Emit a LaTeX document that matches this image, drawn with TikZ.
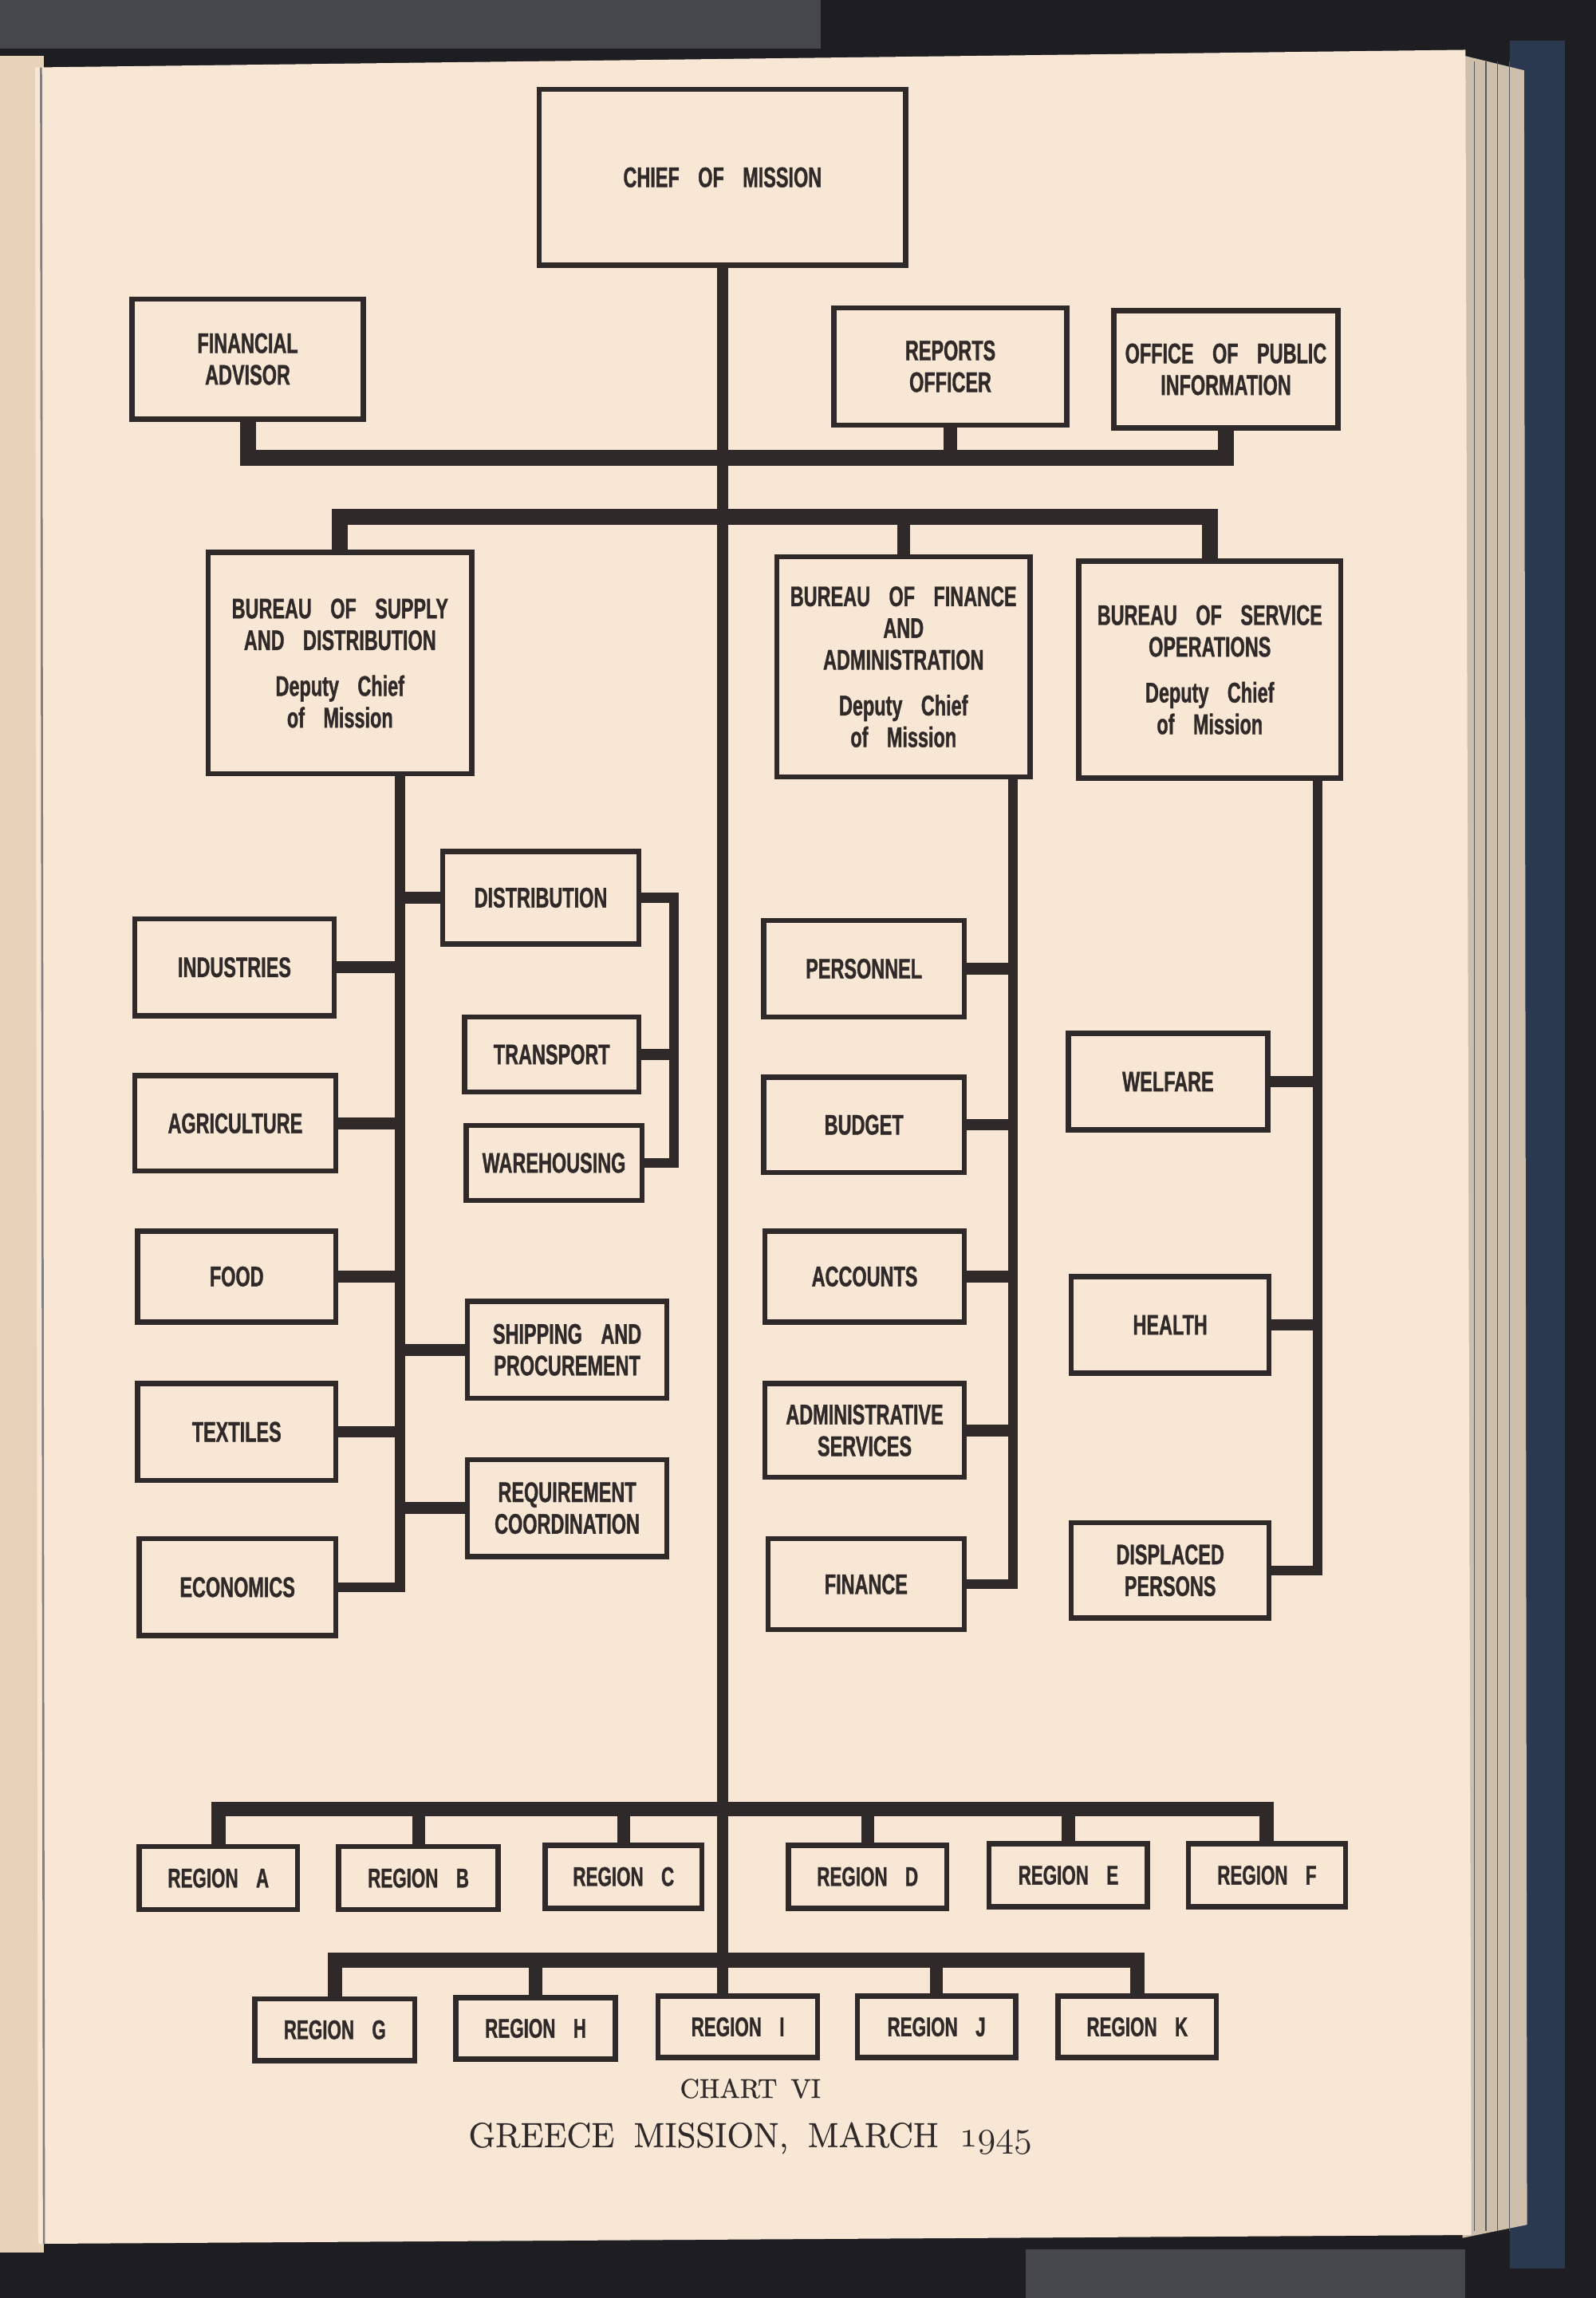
\documentclass[tikz,border=0pt]{standalone}
\usepackage{fontspec}
\usetikzlibrary{calc}
\newfontfamily\lab{Liberation Sans}[FakeStretch=0.66,WordSpace=3.6,FakeBold=1]
\newfontfamily\capfont{Latin Modern Roman}[FakeBold=0.7]
\newcommand\labfont{\lab\bfseries\fontsize{11}{12.3}\selectfont}
\newcommand\regfont{\lab\bfseries\fontsize{10.5}{12}\selectfont}
\definecolor{ink}{HTML}{2F2A29}
\definecolor{paper}{HTML}{F7E7D4}
\definecolor{darkbg}{HTML}{1E1E22}
\definecolor{topgray}{HTML}{46474B}
\definecolor{binding}{HTML}{2A3850}
\definecolor{foreedge}{HTML}{CDBFAB}
\definecolor{leftpage}{HTML}{E6D3BA}
\newcommand\orgbox[7][box]{%
  \pgfmathsetmacro\bw{(#5-#3)*0.02}%
  \pgfmathsetmacro\bh{(#6-#4)*0.02}%
  \node[#1,minimum width=\bw cm,minimum height=\bh cm] (#2) at ({(#3+#5)/2},{(#4+#6)/2}) {#7};}
\tikzset{
  box/.style={draw=ink,line width=2pt,inner sep=0pt,align=center,text=ink,font=\labfont},
  regbox/.style={box,font=\regfont},
  trunk/.style={draw=ink,line width=4.3pt},
  bar/.style={draw=ink,line width=6.2pt,line join=miter},
  rbar/.style={draw=ink,line width=5.6pt,line join=miter},
  drop/.style={draw=ink,line width=5pt},
  branch/.style={draw=ink,line width=3.8pt,line join=miter},
  stub/.style={draw=ink,line width=4.5pt},
  captext/.style={text=ink,inner sep=0pt}
}
\begin{document}
\begin{tikzpicture}[x=0.02cm,y=-0.02cm]
\useasboundingbox (0,0) rectangle (1089,1568);
% ---- page and surroundings ----
\fill[darkbg] (0,0) rectangle (1089,1568);
\fill[topgray] (0,0) rectangle (560,33);
\fill[topgray] (700,1535) rectangle (1000,1568);
\fill[binding] (1030,28) rectangle (1068,1548);
\fill[leftpage] (0,38) rectangle (30,1537);
\fill[foreedge] (995,37) -- (1040,48) -- (1042,1518) -- (998,1527) -- cycle;
\foreach \xx in {1006,1014,1022,1030} \draw[gray!70!black,line width=0.4pt] (\xx,42) -- (\xx,1522);
\fill[paper] (24,46) -- (1000,34) -- (1004,1525) -- (26,1531) -- cycle;
\draw[ink!60,line width=0.8pt] (28,46) -- (30,1531);
% ---- boxes ----
\orgbox{chief}{368}{61}{618}{181}{\fontsize{11}{13}\selectfont CHIEF OF MISSION}
\orgbox{fin}{90}{204}{248}{286}{FINANCIAL\\ADVISOR}
\orgbox{rep}{569}{210}{728}{290}{REPORTS\\OFFICER}
\orgbox{info}{760}{212}{913}{292}{OFFICE OF PUBLIC\\INFORMATION}
\orgbox{sup}{142}{377}{322}{528}{BUREAU OF SUPPLY\\AND DISTRIBUTION\\[5.5pt]Deputy Chief\\of Mission}
\orgbox{finb}{530}{380}{703}{530}{BUREAU OF FINANCE\\AND\\ADMINISTRATION\\[5.5pt]Deputy Chief\\of Mission}
\orgbox{serv}{736}{383}{915}{531}{BUREAU OF SERVICE\\OPERATIONS\\[5.5pt]Deputy Chief\\of Mission}
\orgbox{dist}{302}{581}{436}{644}{DISTRIBUTION}
\orgbox{trans}{317}{694}{436}{745}{TRANSPORT}
\orgbox{ware}{318}{768}{438}{819}{WAREHOUSING}
\orgbox{ind}{92}{627}{228}{693}{INDUSTRIES}
\orgbox{agri}{92}{734}{229}{799}{AGRICULTURE}
\orgbox{food}{94}{840}{229}{902}{FOOD}
\orgbox{ship}{319}{888}{455}{954}{SHIPPING AND\\PROCUREMENT}
\orgbox{text}{94}{944}{229}{1010}{TEXTILES}
\orgbox{req}{319}{996}{455}{1062}{REQUIREMENT\\COORDINATION}
\orgbox{econ}{95}{1050}{229}{1116}{ECONOMICS}
\orgbox{pers}{521}{628}{658}{694}{PERSONNEL}
\orgbox{budg}{521}{735}{658}{800}{BUDGET}
\orgbox{acct}{522}{840}{658}{902}{ACCOUNTS}
\orgbox{adm}{522}{944}{658}{1008}{ADMINISTRATIVE\\SERVICES}
\orgbox{fina}{524}{1050}{658}{1112}{FINANCE}
\orgbox{welf}{729}{705}{865}{771}{WELFARE}
\orgbox{health}{731}{871}{866}{937}{HEALTH}
\orgbox{disp}{731}{1039}{866}{1104}{DISPLACED\\PERSONS}
\orgbox[regbox]{regA}{95}{1260}{203}{1303}{REGION A}
\orgbox[regbox]{regB}{231}{1260}{340}{1303}{REGION B}
\orgbox[regbox]{regC}{372}{1259}{479}{1302}{REGION C}
\orgbox[regbox]{regD}{538}{1259}{646}{1302}{REGION D}
\orgbox[regbox]{regE}{675}{1258}{783}{1301}{REGION E}
\orgbox[regbox]{regF}{811}{1258}{918}{1301}{REGION F}
\orgbox[regbox]{regG}{174}{1364}{283}{1406}{REGION G}
\orgbox[regbox]{regH}{311}{1363}{420}{1405}{REGION H}
\orgbox[regbox]{regI}{449}{1362}{558}{1404}{REGION I}
\orgbox[regbox]{regJ}{585}{1362}{693}{1404}{REGION J}
\orgbox[regbox]{regK}{722}{1362}{830}{1404}{REGION K}
% ---- helper coordinates ----
\coordinate (b1) at (0,312.5);
\coordinate (b2) at (0,352.5);
\coordinate (rb1) at (0,1234.5);
\coordinate (rb2) at (0,1337.5);
\coordinate (sv) at ($(sup.south)+(41,0)$);
\coordinate (bk) at ($(dist.east)+(22,0)$);
\coordinate (fv) at ($(finb.south)+(74.5,0)$);
\coordinate (ov) at ($(serv.south)+(73.5,0)$);
% ---- connectors ----
\draw[trunk] (chief.south) -- (chief.south |- regI.north);
\draw[bar] (fin.south) |- (info.south |- b1) -- (info.south);
\draw[drop] (rep.south) -- (rep.south |- b1);
\draw[bar] (sup.north) |- (serv.north |- b2) -- (serv.north);
\draw[drop] (finb.north) -- (finb.north |- b2);
% supply branch
\draw[branch] (sv) |- (econ.east);
\foreach \n in {ind,agri,food,text} \draw[stub] (\n.east) -- (\n.east -| sv);
\foreach \n in {dist,ship,req} \draw[stub] (\n.west) -- (\n.west -| sv);
\draw[branch] (dist.east) -- (dist.east -| bk) -- (ware.east -| bk) -- (ware.east);
\draw[stub] (trans.east) -- (trans.east -| bk);
% finance branch
\draw[branch] (fv) |- (fina.east);
\foreach \n in {pers,budg,acct,adm} \draw[stub] (\n.east) -- (\n.east -| fv);
% service branch
\draw[branch] (ov) |- (disp.east);
\foreach \n in {welf,health} \draw[stub] (\n.east) -- (\n.east -| ov);
% regions
\draw[rbar] (regA.north) |- (regF.north |- rb1) -- (regF.north);
\foreach \n in {regB,regC,regD,regE} \draw[drop] (\n.north) -- (\n.north |- rb1);
\draw[rbar] (regG.north) |- (regK.north |- rb2) -- (regK.north);
\foreach \n in {regH,regJ} \draw[drop] (\n.north) -- (\n.north |- rb2);
% ---- caption ----
\node[captext,font=\capfont\fontsize{10.5}{12}\selectfont] (cap1) at (512,1425) {CHART\hspace{0.5em}VI};
\node[captext,font=\capfont\fontsize{13.5}{15}\selectfont] (cap2) at (512,1459) {GREECE\hspace{0.55em}MISSION,\hspace{0.55em}MARCH\hspace{0.6em}\ensuremath{\mathnormal{1945}}};
\end{tikzpicture}
\end{document}
